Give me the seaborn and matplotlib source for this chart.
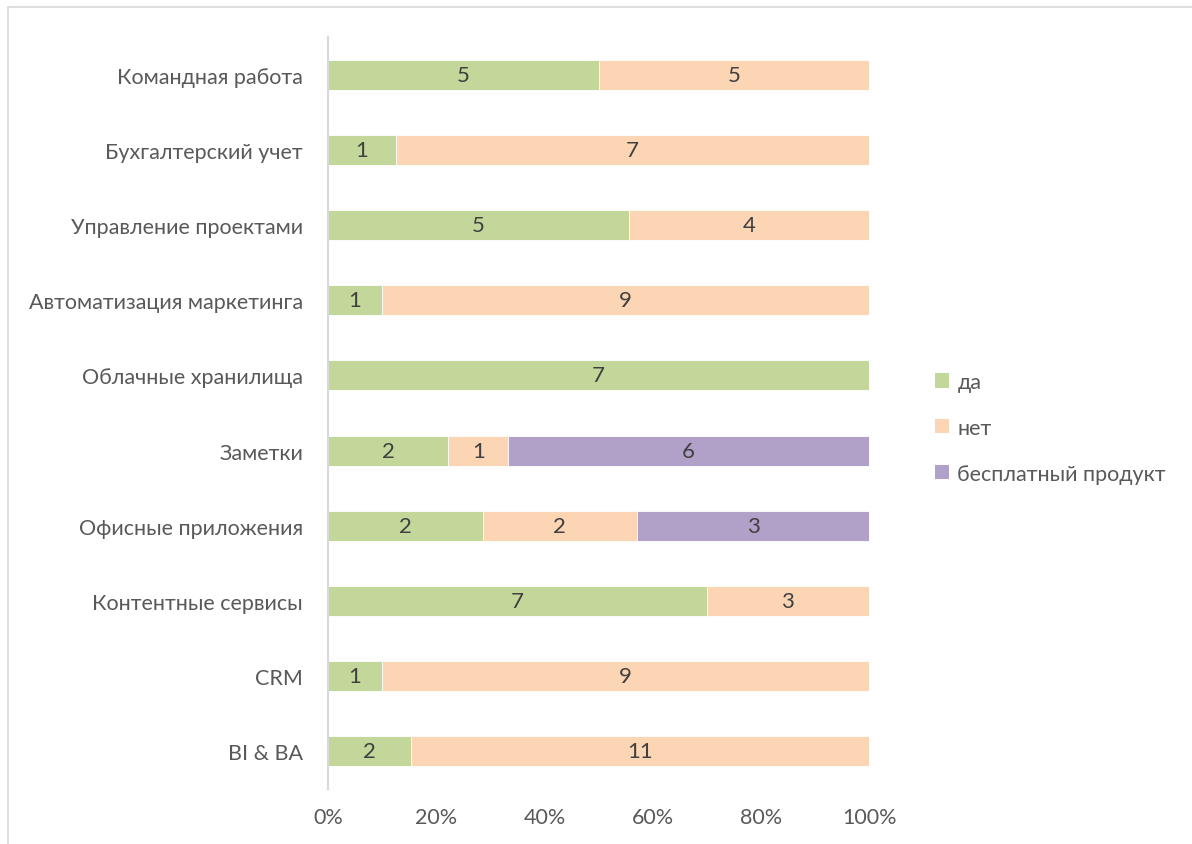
import numpy as np
import pandas as pd
import matplotlib
matplotlib.use("Agg")
import matplotlib.pyplot as plt
from matplotlib.lines import Line2D
from matplotlib.patches import Patch
import seaborn as sns

categories = [
    "Командная работа",
    "Бухгалтерский учет",
    "Управление проектами",
    "Автоматизация маркетинга",
    "Облачные хранилища",
    "Заметки",
    "Офисные приложения",
    "Контентные сервисы",
    "CRM",
    "BI & BA",
]
yes_counts = [5, 1, 5, 1, 7, 2, 2, 7, 1, 2]
no_counts = [5, 7, 4, 9, 0, 1, 2, 3, 9, 11]
free_counts = [0, 0, 0, 0, 0, 6, 3, 0, 0, 0]
series_names = ["да", "нет", "бесплатный продукт"]
x_ticks = [0, 0.2, 0.4, 0.6, 0.8, 1.0]
x_tick_labels = ["0%", "20%", "40%", "60%", "80%", "100%"]

colors = ["#C4D79B", "#FCD5B4", "#B1A0C7"]
label_color = "#595959"
value_color = "#404040"

sns.set_theme(style="white")
plt.rcParams["font.family"] = ["Lato", "DejaVu Sans"]

counts = np.array([yes_counts, no_counts, free_counts], dtype=float)
totals = counts.sum(axis=0)
shares = counts / totals
cum = np.cumsum(shares, axis=0)

fig = plt.figure(figsize=(11.92, 8.45), dpi=100)
ax = fig.add_axes([0.2752, 0.0651, 0.4539, 0.8899])

# stacked bars: draw the cumulative ends from the last series to the first
for i in reversed(range(3)):
    df = pd.DataFrame({"category": categories, "end": cum[i]})
    sns.barplot(data=df, x="end", y="category", orient="h", color=colors[i],
                width=0.4, saturation=1, edgecolor="white", linewidth=0.6,
                ax=ax)

# value labels centred in each segment
starts = np.vstack([np.zeros(len(categories)), cum[:-1]])
for i in range(3):
    for j, cat in enumerate(categories):
        if counts[i, j] > 0:
            ax.text(starts[i, j] + shares[i, j] / 2, j, f"{int(counts[i, j])}",
                    ha="center", va="center", fontsize=16, color=value_color)

ax.set_xlim(0, 1)
ax.set_ylim(len(categories) - 0.5, -0.5)
ax.set_xticks(x_ticks)
ax.set_xticklabels(x_tick_labels)
ax.set_xlabel("")
ax.set_ylabel("")
ax.tick_params(axis="x", length=0, pad=13, labelsize=15.5, labelcolor=label_color)
ax.tick_params(axis="y", length=0, pad=18, labelsize=15.5, labelcolor=label_color)
for side in ["top", "right", "bottom"]:
    ax.spines[side].set_visible(False)
ax.spines["left"].set_color("#D9D9D9")
ax.spines["left"].set_linewidth(1.5)
ax.grid(False)

handles = [Patch(facecolor=c, edgecolor="none") for c in colors]
leg = fig.legend(handles, series_names, loc="center left",
                 bbox_to_anchor=(0.768, 0.4925), frameon=False,
                 fontsize=15.5, labelspacing=1.2, handlelength=0.65,
                 handleheight=0.65, handletextpad=0.4)
for t in leg.get_texts():
    t.set_color(label_color)

# chart area border (top and left edges)
fig.add_artist(Line2D([0.0067, 1.0], [0.9905, 0.9905], transform=fig.transFigure,
                      color="#D9D9D9", linewidth=1.2))
fig.add_artist(Line2D([0.0067, 0.0067], [0.0, 0.9905], transform=fig.transFigure,
                      color="#D9D9D9", linewidth=1.2))

fig.savefig("out.png", dpi=100, facecolor="white")
